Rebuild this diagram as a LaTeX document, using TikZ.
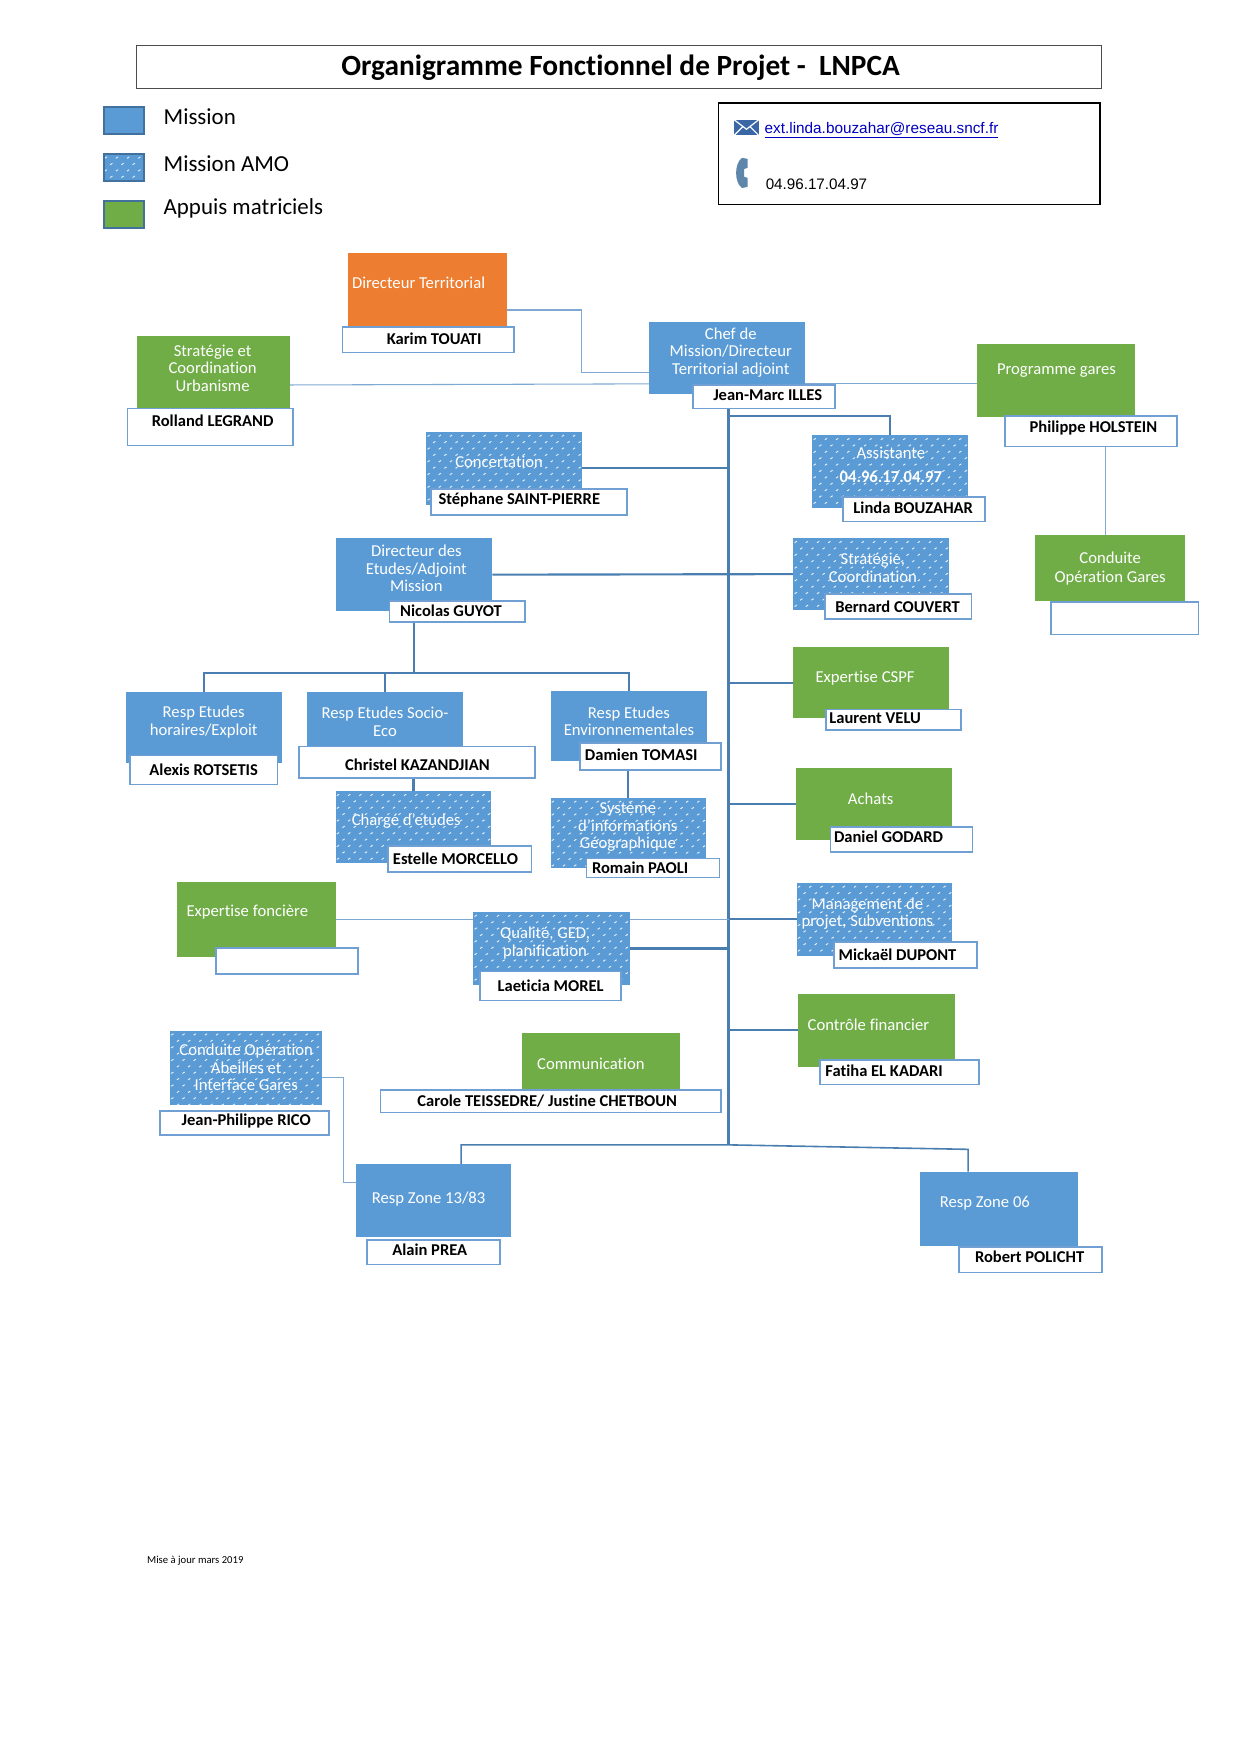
\documentclass[tikz,border=0pt]{standalone}
\usepackage{fontspec}
\setmainfont[Ligatures=NoCommon]{Carlito}
\newfontfamily\arialf{Liberation Sans}
\usetikzlibrary{calc,backgrounds}
\definecolor{boxblue}{HTML}{5B9BD5}
\definecolor{boxgreen}{HTML}{70AD47}
\definecolor{boxorange}{HTML}{ED7D31}
\definecolor{linkdark}{HTML}{4A7EB0}
\definecolor{linklight}{HTML}{7FA9D3}
\definecolor{nameedge}{HTML}{6F9FD3}
\definecolor{legedge}{HTML}{41719C}
\def\un{0.8393}
\tikzset{
  cardbase/.style={inner sep=0pt,outer sep=0pt},
  mission/.style={cardbase,fill=boxblue},
  appui/.style={cardbase,fill=boxgreen},
  direct/.style={cardbase,fill=boxorange},
  namebox/.style={cardbase,fill=white,draw=nameedge,line width=1.3pt},
  nametext/.style={inner sep=0pt,font=\fontsize{12.4}{14}\selectfont\bfseries,text=black},
  titletext/.style={inner sep=0pt,align=center,font=\fontsize{12.5}{13.2}\selectfont,text=white},
  legtext/.style={inner sep=0pt,anchor=west,font=\fontsize{17.2}{20}\selectfont,text=black},
  legbox/.style={cardbase,draw=legedge,line width=1.5pt},
  link/.style={draw=linkdark,line width=1.6pt},
  thinlink/.style={draw=linklight,line width=0.8pt},
  amostroke/.style={draw=white,line width=0.7pt,opacity=0.85},
}
\newcommand{\card}[6]{%
  \pgfmathsetmacro{\cw}{(#5-#3)*\un}\pgfmathsetmacro{\ch}{(#6-#4)*\un}%
  \node[#1,minimum width=\cw pt,minimum height=\ch pt] (#2) at ({(#3+#5)/2},{(#4+#6)/2}) {};}
% card of the dotted kind: blue fill, a staggered lattice of short white strokes
\newcommand{\amocard}[5]{%
  \card{cardbase,fill=boxblue}{#1}{#2}{#3}{#4}{#5}%
  \begin{scope}
    \clip (#2,#3) rectangle (#4,#5);
    \pgfmathtruncatemacro{\nrow}{(#5-#3)/5.7+1}%
    \pgfmathtruncatemacro{\ncol}{(#4-#2)/10+1}%
    \foreach \r in {0,...,\nrow}{%
      \foreach \c in {0,...,\ncol}{%
        \pgfmathsetmacro{\sx}{#2+1+\c*10-mod(\r,2)*5}%
        \pgfmathsetmacro{\sy}{#3+4+\r*5.7}%
        \draw[amostroke] (\sx,\sy) -- ++(2,-1.3);
      }}
  \end{scope}}
\newcommand{\ttl}[4]{\node[titletext] (#1) at (#2,#3) {#4};}
\newcommand{\nam}[4]{\node[nametext] (#1) at (#2,#3) {#4};}
\begin{document}
\begin{tikzpicture}[x=\un pt,y=-\un pt]
\useasboundingbox (0,0) rectangle (1108,1568.2);
% header
\card{cardbase,draw=black!70,line width=0.8pt}{head}{122}{41}{984}{79}
\node[inner sep=0pt,font=\fontsize{22}{24}\selectfont\bfseries] (headt) at (554.5,60.5) {Organigramme Fonctionnel de Projet -\ \ LNPCA};
% legend
\amocard{legB}{92.5}{137.5}{128.5}{162}
\card{legbox}{legBe}{92.5}{137.5}{128.5}{162}
\card{legbox,fill=boxblue}{legA}{92.5}{96}{128.5}{120}
\card{legbox,fill=boxgreen}{legC}{92.5}{179.5}{128.5}{204}
\node[legtext] (legAt) at (146,104.5) {Mission};
\node[legtext] (legBt) at (146,146.5) {Mission AMO};
\node[legtext] (legCt) at (146,186) {Appuis matriciels};
% contact
\card{cardbase,draw=black,line width=1pt}{contact}{642}{92}{983}{183}
\fill[legedge!90!blue] (656,107) rectangle (678,121);
\draw[white,line width=0.9pt] (656,107) -- (667,115.5) -- (678,107) (656,121) -- (664,113) (678,121) -- (670,113);
\fill[legedge!85!white] (663,141) -- (668,142) -- (668,150) -- (665,151) -- (665,158) -- (668,159) -- (668,167) -- (663,168) .. controls (656,163) and (656,146) .. (663,141) -- cycle;
\node[inner sep=0pt,anchor=west,font=\arialf\fontsize{11.5}{13}\selectfont,text={rgb,255:red,0;green,0;blue,190}] (mail) at (683,116.5) {\underline{ext.linda.bouzahar@reseau.sncf.fr}};
\node[inner sep=0pt,anchor=west,font=\arialf\fontsize{11.4}{13}\selectfont] (phone) at (684,165) {04.96.17.04.97};
% boxes
\card{direct}{dt}{311}{226}{453}{293}
\card{namebox}{dtn}{306}{292}{459}{315}
\ttl{dtt}{374}{253}{Directeur Territorial}
\nam{dtnt}{388}{303}{Karim TOUATI}

\card{appui}{surb}{122}{300}{259}{365}
\card{namebox}{surbn}{114}{365}{262}{398}
\ttl{surbt}{190}{329}{Stratégie et\\Coordination\\Urbanisme}
\nam{surbnt}{190}{376}{Rolland LEGRAND}

\card{mission}{chef}{580}{288}{719}{352}
\card{namebox}{chefn}{619}{344}{746}{365}
\ttl{cheft}{653}{315}{Chef de\\Mission/Directeur\\Territorial adjoint}
\nam{chefnt}{686}{353}{Jean-Marc ILLES}

\card{appui}{prog}{873}{307}{1014}{373}
\card{namebox}{progn}{898}{372}{1052}{399}
\ttl{progt}{944}{331}{Programme gares}
\nam{prognt}{977}{382}{Philippe HOLSTEIN}

\card{appui}{cog}{925}{478}{1059}{537}
\card{namebox}{cogn}{939}{538}{1071}{567}
\ttl{cogt}{992}{508}{Conduite\\[1.5pt]Opération Gares}

\amocard{conc}{381}{386}{520}{451}
\card{namebox}{concn}{385}{437}{560}{460}
\ttl{conct}{446}{413}{Concertation}
\nam{concnt}{464}{447}{Stéphane SAINT-PIERRE}

\amocard{assist}{726}{389}{865}{454}
\card{namebox}{assistn}{753}{444}{880}{466}
\ttl{assistt}{796}{405}{Assistante}
\node[titletext,font=\fontsize{12.5}{14}\selectfont\bfseries] (assistp) at (796,426) {04.96.17.04.97};
\nam{assistnt}{816}{454}{Linda BOUZAHAR}

\card{mission}{detu}{300}{481}{440}{546}
\card{namebox}{detun}{348}{537}{469}{556}
\ttl{detut}{372}{508}{Directeur des\\Etudes/Adjoint\\Mission}
\nam{detunt}{403}{546}{Nicolas GUYOT}

\amocard{scoord}{709}{481}{848}{545}
\card{namebox}{scoordn}{737}{531}{868}{553}
\ttl{scoordt}{780}{507.5}{Stratégie,\\Coordination}
\nam{scoordnt}{802}{542}{Bernard COUVERT}

\card{mission}{rh}{113}{618}{252}{682}
\card{namebox}{rhn}{116}{675}{248}{701}
\ttl{rht}{182}{645}{Resp Etudes\\horaires/Exploit}
\nam{rhnt}{182}{688}{Alexis ROTSETIS}

\card{mission}{socio}{274}{618}{414}{670}
\card{namebox}{socion}{267}{667}{478}{695}
\ttl{sociot}{344}{645}{Resp Etudes Socio-\\Eco}
\nam{socionnt}{373}{683}{Christel KAZANDJIAN}

\card{mission}{renv}{492}{617}{632}{680}
\card{namebox}{renvn}{518}{664}{644}{688}
\ttl{renvt}{562}{644.5}{Resp Etudes\\Environnementales}
\nam{renvnt}{573}{674}{Damien TOMASI}

\amocard{charge}{300}{707}{439}{771}
\card{namebox}{chargen}{347}{756}{475}{779}
\ttl{charget}{363}{734}{Chargé d'etudes}
\nam{chargent}{407}{767}{Estelle MORCELLO}

\amocard{sig}{492}{713}{631}{776}
\card{namebox}{sign}{524}{767}{643}{784}
\ttl{sigt}{561}{739}{Système\\d'informations\\Géographique}
\nam{signt}{572}{775}{Romain PAOLI}

\card{appui}{expf}{158}{788}{300}{855}
\card{namebox}{expfn}{193}{847}{320}{870}
\ttl{expft}{221}{815}{Expertise foncière}

\amocard{qual}{423}{815}{563}{880}
\card{namebox}{qualn}{429}{868}{555}{894}
\ttl{qualt}{487}{842.5}{Qualité, GED,\\planification}
\nam{qualnt}{492}{881}{Laeticia MOREL}

\card{appui}{cspf}{709}{578}{848}{642}
\card{namebox}{cspfn}{738}{634}{859}{652}
\ttl{cspft}{773}{606}{Expertise CSPF}
\nam{cspfnt}{782}{642}{Laurent VELU}

\card{appui}{ach}{711}{686}{851}{751}
\card{namebox}{achn}{742}{739}{869}{761}
\ttl{acht}{778}{714}{Achats}
\nam{achnt}{794}{748}{Daniel GODARD}

\amocard{mgmt}{712}{789}{851}{854}
\card{namebox}{mgmtn}{745}{842}{873}{865}
\ttl{mgmtt}{775}{816.5}{Management de\\projet, Subventions}
\nam{mgmtnt}{802}{853}{Mickaël DUPONT}

\card{appui}{ctrl}{713}{888}{853}{953}
\card{namebox}{ctrln}{733}{947}{875}{969}
\ttl{ctrlt}{776}{916}{Contrôle financier}
\nam{ctrlnt}{790}{957}{Fatiha EL KADARI}

\card{appui}{comm}{466}{923}{608}{973}
\card{namebox}{commn}{340}{974}{644}{994}
\ttl{commt}{528}{951}{Communication}
\nam{commnt}{489}{984}{Carole TEISSEDRE/ Justine CHETBOUN}

\amocard{abeil}{152}{921}{288}{987}
\card{namebox}{abeiln}{143}{993}{294}{1014}
\ttl{abeilt}{220}{954}{Conduite Opération\\Abeilles et\\Interface Gares}
\nam{abeilnt}{220}{1002}{Jean-Philippe RICO}

\card{mission}{zA}{318}{1040}{457}{1105}
\card{namebox}{zAn}{328}{1108}{447}{1130}
\ttl{zAt}{383}{1071}{Resp Zone 13/83}
\nam{zAnt}{384}{1117}{Alain PREA}

\card{mission}{zB}{822}{1047}{963}{1113}
\card{namebox}{zBn}{857}{1114}{985}{1137}
\ttl{zBt}{880}{1075}{Resp Zone 06}
\nam{zBnt}{920}{1123}{Robert POLICHT}

\node[inner sep=0pt,font=\fontsize{8}{10}\selectfont] (foot) at (174.5,1394.5) {Mise à jour mars 2019};

% connectors
\coordinate (trunkBot) at (651,1023);
\coordinate (trunkA) at (651,372);
\coordinate (etudBus) at (370,601);
\coordinate (busL) at (412,1023);
\coordinate (busR) at (865,1027);
\coordinate (dtMid) at (520,333);
\coordinate (abMid) at (307,1057);
\coordinate (cogTop) at ($(cog.north)+(-4,0)$);
\begin{scope}[on background layer]
\draw[link] (chefn.south -| trunkBot) -- (trunkBot);
\draw[link] (trunkA) -| (assist.north);
\draw[link] (conc.east) -- (conc.east -| trunkBot);
\draw[link] (detu.east) -- (scoord.west);
\draw[link] (detun.south -| etudBus) -- (etudBus);
\draw[link] (rh.north) |- (etudBus);
\draw[link] (socio.north) |- (etudBus);
\draw[link] (renv.north) |- (etudBus);
\draw[link] (socion.south -| charge.north) -- (charge.north);
\draw[link] (renvn.south -| sig.north) -- (sig.north);
\draw[link] (cspf.west) -- (cspf.west -| trunkBot);
\draw[link] (ach.west) -- (ach.west -| trunkBot);
\draw[thinlink] (expf.east) -- (expf.east -| trunkBot);
\draw[link] (mgmt.west) -- (mgmt.west -| trunkBot);
\draw[link] (qual.east) -- (qual.east -| trunkBot);
\draw[link] (ctrl.west) -- (ctrl.west -| trunkBot);
\draw[link] ($(comm.east)+(0,9)$) -- ($(comm.east)+(0,9)$ -| trunkBot);
\draw[link,line width=1.2pt] (zA.north -| busL) -- (busL) -- (trunkBot) -- (busR) -- (zB.north -| busR);
\draw[thinlink] ($(dt.east)+(0,17.5)$) -| (dtMid) -- ($(chef.west)+(0,13)$);
\draw[thinlink] ($(surb.east)+(0,11.5)$) -- ($(chef.west)+(0,23)$);
\draw[thinlink] ($(chef.east)+(0,23)$) -- ($(prog.west)+(0,3)$);
\draw[thinlink] (progn.south -| cogTop) -- (cogTop);
\draw[thinlink] ($(abeil.east)+(0,9)$) -| (abMid) -- ($(zA.west)+(0,-15.5)$);
\end{scope}
\end{tikzpicture}
\end{document}
